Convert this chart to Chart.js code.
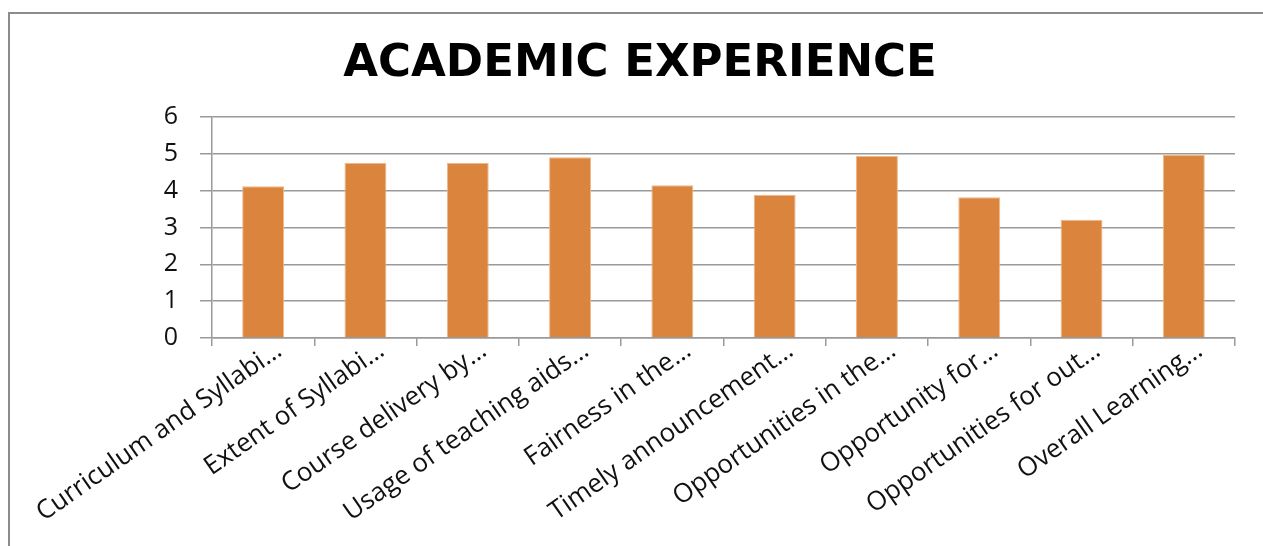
<!DOCTYPE html>
<html>
<head>
<meta charset="utf-8">
<title>Academic Experience</title>
<script src="https://cdn.jsdelivr.net/npm/chart.js@4"></script>
<style>
  html, body { margin: 0; padding: 0; background: #fff; overflow: hidden; }
  #frame {
    position: absolute; left: 8px; top: 12px;
    width: 1400px; height: 700px;
    border: 2px solid #8c8c8c;
    box-sizing: border-box;
  }
  #wrap { position: absolute; left: 0; top: 0; width: 1263px; height: 546px; }
</style>
</head>
<body>
<div id="frame"></div>
<div id="wrap"><canvas id="academicChart" width="1263" height="546"></canvas></div>
<script>
// data
var categories = [
    'Curriculum and Syllabi\u2026',
    'Extent of Syllabi\u2026',
    'Course delivery by\u2026',
    'Usage of teaching aids\u2026',
    'Fairness in the\u2026',
    'Timely announcement\u2026',
    'Opportunities in the\u2026',
    'Opportunity for\u2026',
    'Opportunities for out\u2026',
    'Overall Learning\u2026'
];
var scores = [4.12, 4.75, 4.75, 4.91, 4.15, 3.89, 4.94, 3.82, 3.21, 4.97];
var yTicks = [0, 1, 2, 3, 4, 5, 6];

var axisGray = '#9a9a9a';

var ctx = document.getElementById('academicChart').getContext('2d');
var academicChart = new Chart(ctx, {
    type: 'bar',
    data: {
        labels: categories,
        datasets: [{
            label: 'Score',
            data: scores,
            backgroundColor: '#db843d',
            borderColor: '#f0b888',
            borderWidth: 1,
            barPercentage: 0.41,
            categoryPercentage: 1.0
        }]
    },
    options: {
        responsive: false,
        animation: false,
        // left/right padding keeps the title centred where the original has it
        layout: { padding: { left: 45, right: 28, top: 0, bottom: 0 } },
        plugins: {
            legend: { display: false },
            tooltip: { enabled: false },
            title: {
                display: true,
                text: 'ACADEMIC EXPERIENCE',
                color: '#000',
                font: { family: '"DejaVu Sans", sans-serif', size: 45, weight: 'bold' },
                padding: { top: 37, bottom: 26 }
            }
        },
        scales: {
            x: {
                grid: {
                    display: true,
                    drawOnChartArea: false,
                    drawTicks: true,
                    tickLength: 8,
                    color: axisGray,
                    lineWidth: 1.5
                },
                border: { color: axisGray, width: 1.5 },
                ticks: {
                    color: '#111',
                    font: { family: '"Open Sans", sans-serif', size: 26 },
                    maxRotation: 35,
                    minRotation: 35,
                    autoSkip: false,
                    labelOffset: 16,
                    padding: -11
                },
                afterFit: function(scale) { scale.height = 208; }
            },
            y: {
                min: 0,
                max: 6,
                afterBuildTicks: function(scale) {
                    scale.ticks = yTicks.map(function(v) { return { value: v }; });
                },
                grid: {
                    color: axisGray,
                    lineWidth: 1.5,
                    tickLength: 12
                },
                border: { color: axisGray, width: 1.5 },
                ticks: {
                    color: '#111',
                    font: { family: '"Open Sans", sans-serif', size: 25 },
                    padding: 22
                },
                afterFit: function(scale) { scale.width = 167; }
            }
        }
    }
});
</script>
</body>
</html>
